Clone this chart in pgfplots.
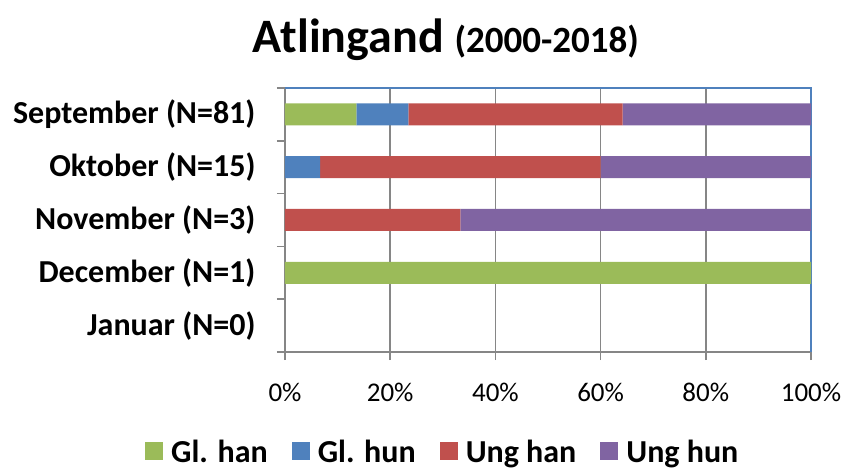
\documentclass[border=0pt]{standalone}
\usepackage{fontspec}
\setmainfont{Carlito}
\usepackage{pgfplots}
\pgfplotsset{compat=1.18}
\definecolor{cgreen}{HTML}{9BBB59}
\definecolor{cblue}{HTML}{4F81BD}
\definecolor{cred}{HTML}{C0504D}
\definecolor{cpurple}{HTML}{8064A2}
\definecolor{cgrid}{HTML}{868686}
\begin{document}
\begin{tikzpicture}
\path[use as bounding box] (-285pt,-119pt) rectangle (564pt,352pt);
\begin{axis}[
  at={(0pt,0pt)}, anchor=south west,
  scale only axis, width=526pt, height=264pt,
  xbar stacked, bar width=22pt,
  xmin=0, xmax=100, ymin=-0.5, ymax=4.5,
  xtick={0,20,...,100},
  xticklabel={\pgfmathprintnumber{\tick}\%},
  /pgf/number format/assume math mode=true,
  xticklabel style={font=\fontsize{27}{30}\selectfont, yshift=-20pt},
  ytick={0,1,2,3,4},
  yticklabels={Januar (N=0),December (N=1),November (N=3),Oktober (N=15),September (N=81)},
  yticklabel style={font=\bfseries\fontsize{32}{36}\selectfont, xshift=-18pt},
  minor ytick={-0.5,0.5,...,4.5},
  tick align=outside, tick pos=left,
  major tick length=8pt, minor tick length=8pt,
  ytick style={draw=none},
  minor y tick style={draw=cgrid, line width=1.6pt},
  x tick style={draw=cgrid, line width=1.6pt},
  xmajorgrids, grid style={cgrid, line width=1.6pt},
  axis line style={cgrid, line width=1.6pt},
  legend columns=4,
  legend style={draw=none, at={(0.300,-0.378)}, anchor=center,
    font=\bfseries\fontsize{32}{35}\selectfont,
    /tikz/every even column/.append style={column sep=22pt}},
  legend image code/.code={\fill[#1] (0pt,-8pt) rectangle (18pt,10pt); \path (24pt,0pt);},
  every axis plot/.append style={draw=none},
  clip=false,
]
\addplot[fill=cgreen] coordinates {(13.58,4) (0,3) (0,2) (100,1) (0,0)};
\addplot[fill=cblue] coordinates {(9.88,4) (6.67,3) (0,2) (0,1) (0,0)};
\addplot[fill=cred] coordinates {(40.74,4) (53.33,3) (33.33,2) (0,1) (0,0)};
\addplot[fill=cpurple] coordinates {(35.80,4) (40.00,3) (66.67,2) (0,1) (0,0)};
\legend{Gl. han, Gl. hun, Ung han, Ung hun}
\draw[cblue, line width=1.8pt] (rel axis cs:0,1) -- (rel axis cs:1,1) -- (rel axis cs:1,0);
\node[anchor=base, inner sep=0pt] at (axis description cs:0.306,1.135)
  {\bfseries\fontsize{48}{52}\selectfont Atlingand {\fontsize{37}{40}\selectfont (2000-2018)}};
\end{axis}
\end{tikzpicture}
\end{document}
